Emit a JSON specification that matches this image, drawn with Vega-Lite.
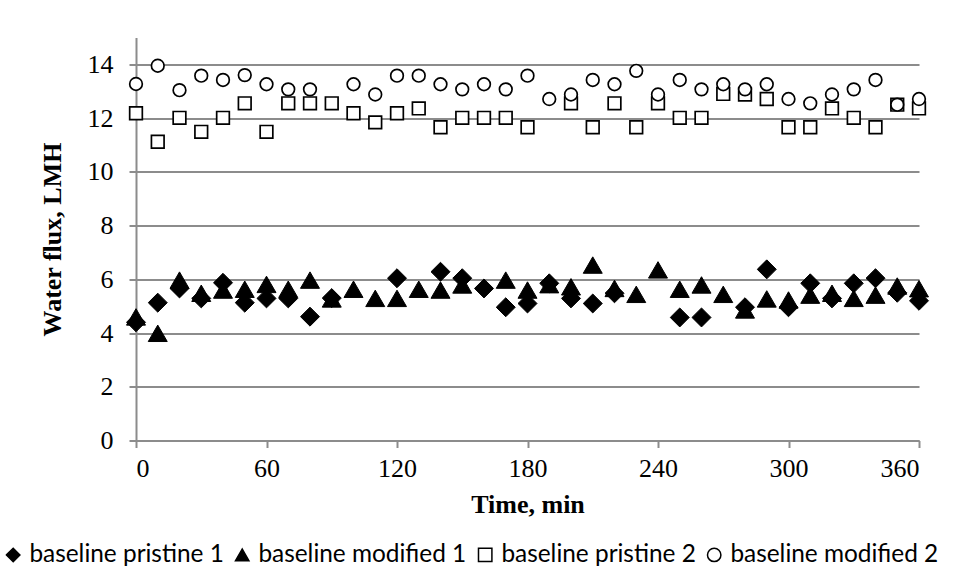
{
  "$schema": "https://vega.github.io/schema/vega-lite/v6.json",
  "width": 783,
  "height": 403,
  "autosize": {"type": "none"},
  "padding": {"left": 136, "top": 37.5, "right": 42, "bottom": 139.5},
  "background": "white",
  "config": {
    "view": {"stroke": null},
    "axis": {
      "labelFont": "Liberation Serif",
      "labelFontSize": 26,
      "labelColor": "black",
      "titleFont": "Liberation Serif",
      "titleFontSize": 26,
      "titleFontWeight": "bold",
      "titleColor": "black",
      "domainColor": "#8c8c8c",
      "domainWidth": 2,
      "tickColor": "#8c8c8c",
      "tickWidth": 2,
      "tickSize": 7,
      "gridColor": "#8c8c8c",
      "gridWidth": 2
    },
    "legend": {
      "orient": "none", "legendX": -135, "legendY": 505, "direction": "horizontal", "columns": 4,
      "labelFont": "Lato", "labelFontSize": 24.4, "labelColor": "black", "labelLimit": 0,
      "symbolSize": 180, "symbolStrokeWidth": 1.5,
      "columnPadding": 6, "labelOffset": 4
    }
  },
  "datasets": {
    "filled": [
      {"t": 0, "flux": 4.4, "series": "baseline pristine 1"},
      {"t": 10, "flux": 5.13, "series": "baseline pristine 1"},
      {"t": 20, "flux": 5.66, "series": "baseline pristine 1"},
      {"t": 30, "flux": 5.29, "series": "baseline pristine 1"},
      {"t": 40, "flux": 5.87, "series": "baseline pristine 1"},
      {"t": 50, "flux": 5.13, "series": "baseline pristine 1"},
      {"t": 60, "flux": 5.29, "series": "baseline pristine 1"},
      {"t": 70, "flux": 5.29, "series": "baseline pristine 1"},
      {"t": 80, "flux": 4.61, "series": "baseline pristine 1"},
      {"t": 90, "flux": 5.3, "series": "baseline pristine 1"},
      {"t": 120, "flux": 6.04, "series": "baseline pristine 1"},
      {"t": 140, "flux": 6.28, "series": "baseline pristine 1"},
      {"t": 150, "flux": 6.04, "series": "baseline pristine 1"},
      {"t": 160, "flux": 5.66, "series": "baseline pristine 1"},
      {"t": 170, "flux": 4.96, "series": "baseline pristine 1"},
      {"t": 180, "flux": 5.1, "series": "baseline pristine 1"},
      {"t": 190, "flux": 5.85, "series": "baseline pristine 1"},
      {"t": 200, "flux": 5.29, "series": "baseline pristine 1"},
      {"t": 210, "flux": 5.1, "series": "baseline pristine 1"},
      {"t": 220, "flux": 5.48, "series": "baseline pristine 1"},
      {"t": 250, "flux": 4.58, "series": "baseline pristine 1"},
      {"t": 260, "flux": 4.58, "series": "baseline pristine 1"},
      {"t": 280, "flux": 4.96, "series": "baseline pristine 1"},
      {"t": 290, "flux": 6.37, "series": "baseline pristine 1"},
      {"t": 300, "flux": 4.96, "series": "baseline pristine 1"},
      {"t": 310, "flux": 5.85, "series": "baseline pristine 1"},
      {"t": 320, "flux": 5.29, "series": "baseline pristine 1"},
      {"t": 330, "flux": 5.85, "series": "baseline pristine 1"},
      {"t": 340, "flux": 6.04, "series": "baseline pristine 1"},
      {"t": 350, "flux": 5.5, "series": "baseline pristine 1"},
      {"t": 360, "flux": 5.2, "series": "baseline pristine 1"},
      {"t": 0, "flux": 4.6, "series": "baseline modified 1"},
      {"t": 10, "flux": 3.99, "series": "baseline modified 1"},
      {"t": 20, "flux": 5.97, "series": "baseline modified 1"},
      {"t": 30, "flux": 5.48, "series": "baseline modified 1"},
      {"t": 40, "flux": 5.6, "series": "baseline modified 1"},
      {"t": 50, "flux": 5.63, "series": "baseline modified 1"},
      {"t": 60, "flux": 5.81, "series": "baseline modified 1"},
      {"t": 70, "flux": 5.63, "series": "baseline modified 1"},
      {"t": 80, "flux": 5.97, "series": "baseline modified 1"},
      {"t": 90, "flux": 5.27, "series": "baseline modified 1"},
      {"t": 100, "flux": 5.63, "series": "baseline modified 1"},
      {"t": 110, "flux": 5.29, "series": "baseline modified 1"},
      {"t": 120, "flux": 5.29, "series": "baseline modified 1"},
      {"t": 130, "flux": 5.63, "series": "baseline modified 1"},
      {"t": 140, "flux": 5.6, "series": "baseline modified 1"},
      {"t": 150, "flux": 5.79, "series": "baseline modified 1"},
      {"t": 170, "flux": 5.97, "series": "baseline modified 1"},
      {"t": 180, "flux": 5.6, "series": "baseline modified 1"},
      {"t": 190, "flux": 5.8, "series": "baseline modified 1"},
      {"t": 200, "flux": 5.72, "series": "baseline modified 1"},
      {"t": 210, "flux": 6.53, "series": "baseline modified 1"},
      {"t": 220, "flux": 5.66, "series": "baseline modified 1"},
      {"t": 230, "flux": 5.44, "series": "baseline modified 1"},
      {"t": 240, "flux": 6.35, "series": "baseline modified 1"},
      {"t": 250, "flux": 5.63, "series": "baseline modified 1"},
      {"t": 260, "flux": 5.79, "series": "baseline modified 1"},
      {"t": 270, "flux": 5.44, "series": "baseline modified 1"},
      {"t": 280, "flux": 4.86, "series": "baseline modified 1"},
      {"t": 290, "flux": 5.27, "series": "baseline modified 1"},
      {"t": 300, "flux": 5.23, "series": "baseline modified 1"},
      {"t": 310, "flux": 5.41, "series": "baseline modified 1"},
      {"t": 320, "flux": 5.48, "series": "baseline modified 1"},
      {"t": 330, "flux": 5.29, "series": "baseline modified 1"},
      {"t": 340, "flux": 5.41, "series": "baseline modified 1"},
      {"t": 350, "flux": 5.75, "series": "baseline modified 1"},
      {"t": 360, "flux": 5.65, "series": "baseline modified 1"}
    ],
    "open": [
      {"t": 0, "flux": 12.18, "series": "baseline pristine 2"},
      {"t": 10, "flux": 11.12, "series": "baseline pristine 2"},
      {"t": 20, "flux": 12.01, "series": "baseline pristine 2"},
      {"t": 30, "flux": 11.49, "series": "baseline pristine 2"},
      {"t": 40, "flux": 12.01, "series": "baseline pristine 2"},
      {"t": 50, "flux": 12.55, "series": "baseline pristine 2"},
      {"t": 60, "flux": 11.49, "series": "baseline pristine 2"},
      {"t": 70, "flux": 12.55, "series": "baseline pristine 2"},
      {"t": 80, "flux": 12.55, "series": "baseline pristine 2"},
      {"t": 90, "flux": 12.55, "series": "baseline pristine 2"},
      {"t": 100, "flux": 12.18, "series": "baseline pristine 2"},
      {"t": 110, "flux": 11.84, "series": "baseline pristine 2"},
      {"t": 120, "flux": 12.18, "series": "baseline pristine 2"},
      {"t": 130, "flux": 12.36, "series": "baseline pristine 2"},
      {"t": 140, "flux": 11.66, "series": "baseline pristine 2"},
      {"t": 150, "flux": 12.01, "series": "baseline pristine 2"},
      {"t": 160, "flux": 12.01, "series": "baseline pristine 2"},
      {"t": 170, "flux": 12.01, "series": "baseline pristine 2"},
      {"t": 180, "flux": 11.66, "series": "baseline pristine 2"},
      {"t": 200, "flux": 12.55, "series": "baseline pristine 2"},
      {"t": 210, "flux": 11.66, "series": "baseline pristine 2"},
      {"t": 220, "flux": 12.55, "series": "baseline pristine 2"},
      {"t": 230, "flux": 11.66, "series": "baseline pristine 2"},
      {"t": 240, "flux": 12.55, "series": "baseline pristine 2"},
      {"t": 250, "flux": 12.01, "series": "baseline pristine 2"},
      {"t": 260, "flux": 12.01, "series": "baseline pristine 2"},
      {"t": 270, "flux": 12.9, "series": "baseline pristine 2"},
      {"t": 280, "flux": 12.88, "series": "baseline pristine 2"},
      {"t": 290, "flux": 12.71, "series": "baseline pristine 2"},
      {"t": 300, "flux": 11.66, "series": "baseline pristine 2"},
      {"t": 310, "flux": 11.66, "series": "baseline pristine 2"},
      {"t": 320, "flux": 12.36, "series": "baseline pristine 2"},
      {"t": 330, "flux": 12.01, "series": "baseline pristine 2"},
      {"t": 340, "flux": 11.66, "series": "baseline pristine 2"},
      {"t": 350, "flux": 12.5, "series": "baseline pristine 2"},
      {"t": 360, "flux": 12.36, "series": "baseline pristine 2"},
      {"t": 0, "flux": 13.27, "series": "baseline modified 2"},
      {"t": 10, "flux": 13.95, "series": "baseline modified 2"},
      {"t": 20, "flux": 13.04, "series": "baseline modified 2"},
      {"t": 30, "flux": 13.58, "series": "baseline modified 2"},
      {"t": 40, "flux": 13.42, "series": "baseline modified 2"},
      {"t": 50, "flux": 13.6, "series": "baseline modified 2"},
      {"t": 60, "flux": 13.26, "series": "baseline modified 2"},
      {"t": 70, "flux": 13.07, "series": "baseline modified 2"},
      {"t": 80, "flux": 13.07, "series": "baseline modified 2"},
      {"t": 100, "flux": 13.26, "series": "baseline modified 2"},
      {"t": 110, "flux": 12.88, "series": "baseline modified 2"},
      {"t": 120, "flux": 13.58, "series": "baseline modified 2"},
      {"t": 130, "flux": 13.58, "series": "baseline modified 2"},
      {"t": 140, "flux": 13.26, "series": "baseline modified 2"},
      {"t": 150, "flux": 13.07, "series": "baseline modified 2"},
      {"t": 160, "flux": 13.26, "series": "baseline modified 2"},
      {"t": 170, "flux": 13.07, "series": "baseline modified 2"},
      {"t": 180, "flux": 13.58, "series": "baseline modified 2"},
      {"t": 190, "flux": 12.71, "series": "baseline modified 2"},
      {"t": 200, "flux": 12.88, "series": "baseline modified 2"},
      {"t": 210, "flux": 13.42, "series": "baseline modified 2"},
      {"t": 220, "flux": 13.26, "series": "baseline modified 2"},
      {"t": 230, "flux": 13.76, "series": "baseline modified 2"},
      {"t": 240, "flux": 12.88, "series": "baseline modified 2"},
      {"t": 250, "flux": 13.42, "series": "baseline modified 2"},
      {"t": 260, "flux": 13.07, "series": "baseline modified 2"},
      {"t": 270, "flux": 13.26, "series": "baseline modified 2"},
      {"t": 280, "flux": 13.07, "series": "baseline modified 2"},
      {"t": 290, "flux": 13.26, "series": "baseline modified 2"},
      {"t": 300, "flux": 12.71, "series": "baseline modified 2"},
      {"t": 310, "flux": 12.55, "series": "baseline modified 2"},
      {"t": 320, "flux": 12.88, "series": "baseline modified 2"},
      {"t": 330, "flux": 13.07, "series": "baseline modified 2"},
      {"t": 340, "flux": 13.42, "series": "baseline modified 2"},
      {"t": 350, "flux": 12.5, "series": "baseline modified 2"},
      {"t": 360, "flux": 12.71, "series": "baseline modified 2"}
    ]
  },
  "encoding": {
    "x": {
      "field": "t", "type": "quantitative",
      "scale": {"domain": [0, 360], "nice": false},
      "axis": {"values": [0, 60, 120, 180, 240, 300, 360], "grid": false, "title": "Time, min", "labelPadding": 8, "titlePadding": 10}
    },
    "y": {
      "field": "flux", "type": "quantitative",
      "scale": {"domain": [0, 15], "nice": false},
      "axis": {"values": [0, 2, 4, 6, 8, 10, 12, 14], "grid": true, "title": "Water flux, LMH", "labelPadding": 16, "titlePadding": 22}
    },
    "shape": {
      "field": "series", "type": "nominal",
      "scale": {
        "domain": ["baseline pristine 1", "baseline modified 1", "baseline pristine 2", "baseline modified 2"],
        "range": ["diamond", "triangle-up", "square", "circle"]
      },
      "legend": {"title": null}
    },
    "fill": {
      "field": "series", "type": "nominal",
      "scale": {
        "domain": ["baseline pristine 1", "baseline modified 1", "baseline pristine 2", "baseline modified 2"],
        "range": ["black", "black", "white", "white"]
      },
      "legend": {"title": null}
    },
    "stroke": {
      "field": "series", "type": "nominal",
      "scale": {
        "domain": ["baseline pristine 1", "baseline modified 1", "baseline pristine 2", "baseline modified 2"],
        "range": ["black", "black", "black", "black"]
      },
      "legend": {"title": null}
    }
  },
  "layer": [
    {
      "data": {"name": "filled"},
      "mark": {"type": "point", "filled": true, "strokeWidth": 1, "opacity": 1, "size": 360}
    },
    {
      "data": {"name": "open"},
      "mark": {"type": "point", "filled": true, "strokeWidth": 1.7, "opacity": 1, "size": 160}
    }
  ]
}
